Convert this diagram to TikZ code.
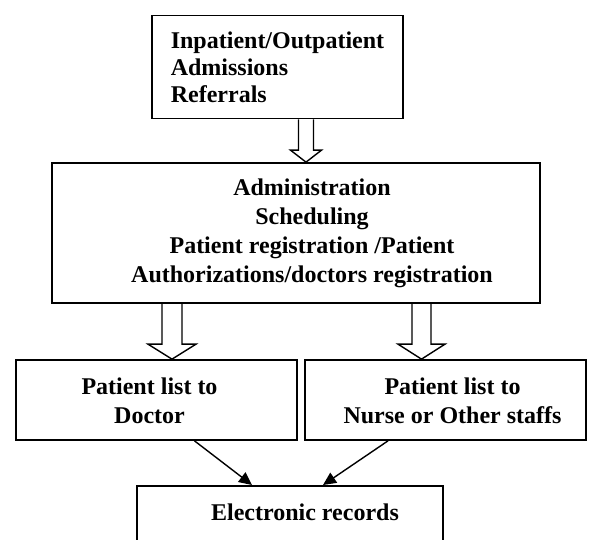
\documentclass[tikz,border=0pt]{standalone}
\usepackage{fontspec}
\setmainfont{Liberation Serif}
\usetikzlibrary{calc,arrows.meta}
\begin{document}
\begin{tikzpicture}[x=1pt,y=-1pt,
  txt/.style={font=\bfseries\fontsize{24}{29}\selectfont,align=center,inner sep=0pt},
  box/.style={draw=black,line width=1.7pt,inner sep=0pt,txt},
  blockarr/.style={draw=black,line width=1.4pt,line join=miter},
  diag/.style={draw=black,line width=1.4pt,-{Triangle[length=13pt,width=12pt]}}]
\useasboundingbox (0,0) rectangle (589,540);
\node[box,minimum width=251,minimum height=103,align=left,
  font=\bfseries\fontsize{24}{27}\selectfont] (top) at (277.5,67)
  {Inpatient/Outpatient\\Admissions\\Referrals};
\node[box,minimum width=488,minimum height=140] (adm) at (296,233) {};
\node[txt] (admtext) at ($(adm.center)+(16,0)$)
  {Administration\\Scheduling\\Patient registration /Patient\\Authorizations/doctors registration};
\node[box,minimum width=281,minimum height=80] (bl) at (156.5,400) {};
\node[txt] (bltext) at ($(bl.center)+(-7,1)$) {Patient list to\\Doctor};
\node[box,minimum width=281,minimum height=80] (br) at (445.5,400) {};
\node[txt] (brtext) at ($(br.center)+(7,1)$) {Patient list to\\Nurse or Other staffs};
\node[box,minimum width=306,minimum height=75,anchor=north] (er) at (290,485) {};
\node[txt] (ertext) at ($(er.north)+(15,27)$) {Electronic records};
% hollow block arrows
\draw[blockarr] let \p1=(top.south), \p2=(adm.north) in
  (\x1+21pt,\y1) -- (\x1+21pt,\y2+12pt) -- (\x1+13pt,\y2+12pt) -- (\x1+28.5pt,\y2)
  -- (\x1+44pt,\y2+12pt) -- (\x1+36pt,\y2+12pt) -- (\x1+36pt,\y1);
\draw[blockarr] let \p1=(adm.south), \p2=(bl.north) in
  (162pt,\y1) -- (162pt,\y2+15pt) -- (148pt,\y2+15pt) -- (172pt,\y2)
  -- (196pt,\y2+15pt) -- (182pt,\y2+15pt) -- (182pt,\y1);
\draw[blockarr] let \p1=(adm.south), \p2=(br.north) in
  (412pt,\y1) -- (412pt,\y2+15pt) -- (398pt,\y2+15pt) -- (421.5pt,\y2)
  -- (445pt,\y2+15pt) -- (431pt,\y2+15pt) -- (431pt,\y1);
% converging arrows
\draw[diag] ($(bl.south)+(38,0)$) -- ($(er.north)+(-38,0)$);
\draw[diag] ($(br.south)+(-57.5,0)$) -- ($(er.north)+(33,0)$);
\end{tikzpicture}
\end{document}
